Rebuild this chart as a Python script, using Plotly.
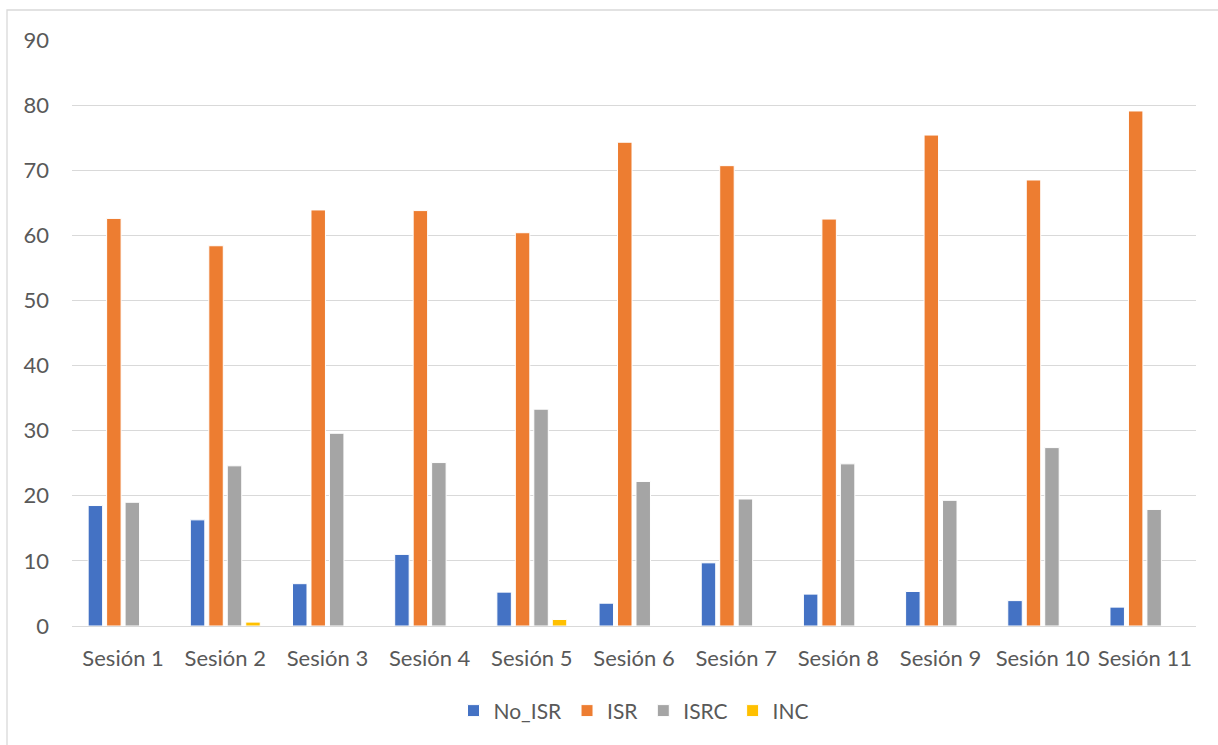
import plotly.graph_objects as go

categories = ["Sesión 1", "Sesión 2", "Sesión 3", "Sesión 4", "Sesión 5", "Sesión 6",
              "Sesión 7", "Sesión 8", "Sesión 9", "Sesión 10", "Sesión 11"]
no_isr = [18.5, 16.3, 6.5, 11.0, 5.2, 3.5, 9.7, 4.9, 5.3, 3.9, 2.9]
isr = [62.6, 58.4, 63.9, 63.8, 60.4, 74.3, 70.7, 62.5, 75.4, 68.5, 79.1]
isrc = [19.0, 24.6, 29.6, 25.1, 33.3, 22.2, 19.5, 24.9, 19.3, 27.4, 17.9]
inc = [0, 0.6, 0, 0, 1.0, 0, 0, 0, 0, 0, 0]

series = [
    ("No_ISR", no_isr, "#4472C4"),
    ("ISR", isr, "#ED7D31"),
    ("ISRC", isrc, "#A5A5A5"),
    ("INC", inc, "#FFC000"),
]

fig = go.Figure()
for name, vals, color in series:
    fig.add_trace(go.Bar(
        x=categories, y=vals, name=name,
        marker=dict(color=color, line=dict(color="white", width=1)),
    ))

font_family = "Lato, Calibri, Carlito, sans-serif"
fig.update_layout(
    width=1218, height=745,
    margin=dict(l=72, r=22, t=40, b=119, autoexpand=False),
    paper_bgcolor="white", plot_bgcolor="white",
    barmode="group", bargap=0.277, bargroupgap=0.216,
    font=dict(family=font_family, size=22, color="#595959"),
    showlegend=True,
    legend=dict(orientation="h", x=0.5, xanchor="center", y=-0.145, yanchor="middle",
                font=dict(size=21, color="#595959"), itemwidth=30, traceorder="normal",
                tracegroupgap=0),
    xaxis=dict(showgrid=False, showline=False, zeroline=False, ticks="",
               ticklabelstandoff=17,
               tickfont=dict(size=22, color="#595959")),
    yaxis=dict(range=[0, 90], dtick=10, showgrid=True, gridcolor="#D9D9D9", gridwidth=1.3,
               zeroline=True, zerolinecolor="#D9D9D9", zerolinewidth=1.3,
               showline=False, ticks="", ticklabelstandoff=22,
               tickfont=dict(size=22, color="#595959")),
    shapes=[dict(type="rect", xref="paper", yref="paper",
                 x0=(7 - 72) / 1124, x1=(1225 - 72) / 1124,
                 y0=(626 - 760) / 586, y1=(626 - 10) / 586,
                 line=dict(color="#D9D9D9", width=1.3), fillcolor="rgba(0,0,0,0)",
                 layer="below")],
)

fig.write_html("out.html")
